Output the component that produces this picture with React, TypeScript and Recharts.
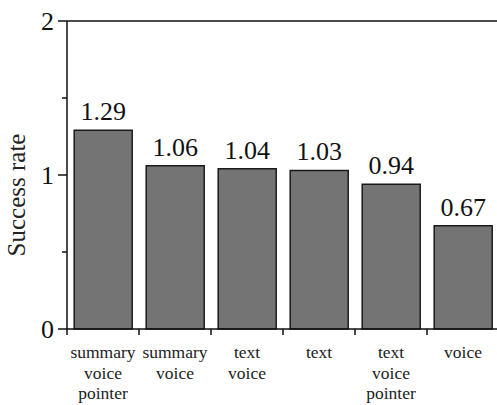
import { Bar, BarChart, LabelList, ReferenceLine, XAxis, YAxis } from "recharts";

const categories = [
  "summary\nvoice\npointer",
  "summary\nvoice",
  "text\nvoice",
  "text",
  "text\nvoice\npointer",
  "voice",
];
const successRates = [1.29, 1.06, 1.04, 1.03, 0.94, 0.67];
const yTicks = [0, 0.5, 1, 1.5, 2];
const yLabels = [0, 1, 2];

const data = categories.map((name, i) => ({ name, rate: successRates[i] }));

const FONT = "Liberation Serif";
const PLOT_WIDTH = 432;
const BAND = PLOT_WIDTH / categories.length;

const YTick = (props: any) => {
  const { x, y, payload } = props;
  const major = yLabels.includes(payload.value);
  return (
    <g>
      <line x1={x + (major ? -1 : 3)} x2={x + 8} y1={y} y2={y} stroke="#111" strokeWidth={1.5} />
      {major && (
        <text x={x - 5} y={y} dy={9} textAnchor="end" fontSize={26} fontFamily={FONT} fill="#111">
          {payload.value}
        </text>
      )}
    </g>
  );
};

const XTick = (props: any) => {
  const { x, y, payload } = props;
  const lines = String(payload.value).split("\n");
  const left = x - BAND / 2;
  return (
    <g>
      <line x1={left} x2={left} y1={y - 8} y2={y - 2} stroke="#111" strokeWidth={1.5} />
      {lines.map((line, i) => (
        <text key={i} x={x} y={y + 21 + i * 20.5} textAnchor="middle" fontSize={17.5} fontFamily={FONT} fill="#222">
          {line}
        </text>
      ))}
    </g>
  );
};

const ValueLabel = (props: any) => {
  const { x, y, width, value } = props;
  return (
    <text x={x + width / 2} y={y - 10} textAnchor="middle" fontSize={26} fontFamily={FONT} fill="#111">
      {Number(value).toFixed(2)}
    </text>
  );
};

const YLabel = () => (
  <text
    x={25}
    y={195}
    transform="rotate(-90 25 195)"
    textAnchor="middle"
    fontSize={25}
    fontFamily={FONT}
    fill="#222"
  >
    Success rate
  </text>
);

export default function App() {
  return (
    <div
      style={{
        position: "absolute",
        left: 0,
        top: 0,
        width: 497,
        height: 405,
        overflow: "hidden",
        background: "#fff",
        fontFamily: FONT,
      }}
    >
      <BarChart
        width={500}
        height={405}
        data={data}
        margin={{ top: 21, right: 1, bottom: 0, left: 0 }}
        barCategoryGap="10%"
      >
        <XAxis
          dataKey="name"
          interval={0}
          height={76}
          axisLine={{ stroke: "#111", strokeWidth: 1.5 }}
          tickLine={false}
          tick={<XTick />}
        />
        <YAxis
          width={67}
          domain={[0, 2]}
          ticks={yTicks}
          interval={0}
          axisLine={{ stroke: "#111", strokeWidth: 1.5 }}
          tickLine={false}
          tick={<YTick />}
          label={{ content: () => <YLabel /> }}
        />
        <ReferenceLine y={2} stroke="#111" strokeWidth={1.5} ifOverflow="visible" />
        <Bar dataKey="rate" fill="#747474" stroke="#1a1a1a" strokeWidth={1.5} isAnimationActive={false}>
          <LabelList dataKey="rate" content={<ValueLabel />} />
        </Bar>
      </BarChart>
    </div>
  );
}
